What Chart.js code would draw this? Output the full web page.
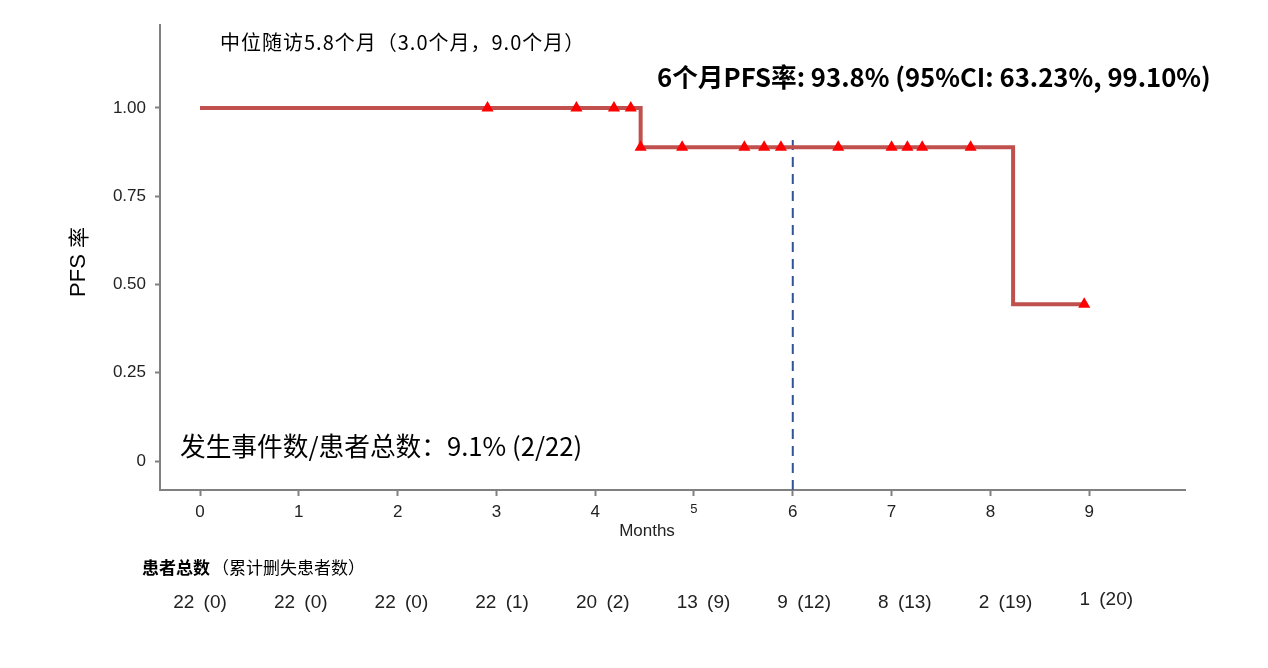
<!DOCTYPE html>
<html>
<head>
<meta charset="utf-8">
<script src="https://cdn.jsdelivr.net/npm/chart.js@4"></script>
<style>
  body { margin: 0; background: #fff; }
  #wrap { width: 1268px; height: 668px; }
</style>
</head>
<body>
<div id="wrap"><canvas id="km"></canvas></div>
<script>
// KM 曲线：事件时间点与对应生存率
const stepTimes = [0, 4.46, 8.23, 8.95];
const stepSurv = [1.0, 0.889, 0.444, 0.444];
// 删失时间点
const censorTimes = [2.91, 3.81, 4.19, 4.36, 4.46, 4.88, 5.51, 5.71, 5.88, 6.46, 7.0, 7.16, 7.31, 7.8, 8.95];
const xTicks = [0, 1, 2, 3, 4, 5, 6, 7, 8, 9];
const yTicks = [0, 0.25, 0.5, 0.75, 1.0];
const yTickLabels = ['0', '0.25', '0.50', '0.75', '1.00'];
const markTime = 6;
const markTop = 0.91;
// 风险表
const riskLabels = ['22 (0)', '22 (0)', '22 (0)', '22 (1)', '20 (2)', '13 (9)', '9 (12)', '8 (13)', '2 (19)', '1 (20)'];

const titleFollow = '中位随访5.8个月（3.0个月，9.0个月）';
const titlePfs = '6个月PFS率: 93.8% (95%CI: 63.23%, 99.10%)';
const titleEvents = '发生事件数/患者总数：9.1% (2/22)';

const yMin = -0.082, yMax = 1.235;

function survAt(t) {
    let s = stepSurv[0];
    for (let i = 0; i < stepTimes.length; i++) {
        if (stepTimes[i] <= t) s = stepSurv[i];
    }
    return s;
}

const kmData = stepTimes.map((t, i) => ({ x: t, y: stepSurv[i] }));
const censorData = censorTimes.map(t => ({ x: t, y: survAt(t) }));

const cjk = '"Noto Sans CJK SC", "Liberation Sans", sans-serif';
const latin = '"Liberation Sans", Arial, sans-serif';

const textPlugin = {
    id: 'kmText',
    afterDraw(chart) {
        const ctx = chart.ctx;
        const x = chart.scales.x;
        ctx.save();
        ctx.fillStyle = '#000';
        ctx.textBaseline = 'middle';

        ctx.textAlign = 'left';
        ctx.font = '20px ' + cjk;
        ctx.letterSpacing = '1px';
        ctx.fillText(titleFollow, 220, 42);
        ctx.letterSpacing = '0px';

        ctx.font = 'bold 25.7px ' + cjk;
        ctx.fillText(titlePfs, 657, 77);

        ctx.font = '25.7px ' + cjk;
        ctx.fillText(titleEvents, 180, 446);

        // x 轴标题
        ctx.textAlign = 'center';
        ctx.fillStyle = '#222';
        ctx.font = '17px ' + latin;
        ctx.fillText('Months', 647, 531);

        // y 轴标题
        ctx.save();
        ctx.translate(78, 262);
        ctx.rotate(-Math.PI / 2);
        ctx.fillStyle = '#000';
        ctx.font = '22px ' + latin;
        const pw = ctx.measureText('PFS ').width;
        ctx.font = '21px ' + cjk;
        const rw = ctx.measureText('率').width;
        ctx.textAlign = 'left';
        ctx.font = '22px ' + latin;
        ctx.fillText('PFS ', -(pw + rw) / 2, 1);
        ctx.font = '21px ' + cjk;
        ctx.fillText('率', -(pw + rw) / 2 + pw, 0);
        ctx.restore();

        // 风险表
        ctx.textAlign = 'left';
        ctx.fillStyle = '#000';
        ctx.font = 'bold 17px ' + cjk;
        ctx.fillText('患者总数', 142, 568);
        const w = ctx.measureText('患者总数').width;
        ctx.font = '17px ' + cjk;
        ctx.fillText('（累计删失患者数）', 142 + w + 2, 568);

        ctx.textAlign = 'center';
        ctx.fillStyle = '#222';
        ctx.font = '19px ' + latin;
        ctx.wordSpacing = '4px';
        riskLabels.forEach((lab, i) => {
            const px = x.getPixelForValue(xTicks[i]) + i * 1.9;
            ctx.fillText(lab, px, i === riskLabels.length - 1 ? 600 : 603);
        });
        ctx.restore();
    }
};

new Chart(document.getElementById('km'), {
    type: 'scatter',
    data: {
        datasets: [
            {
                type: 'line',
                data: [{ x: markTime, y: yMin }, { x: markTime, y: markTop }],
                borderColor: '#2F5597',
                borderWidth: 2,
                borderDash: [10, 7],
                pointRadius: 0,
                order: 3
            },
            {
                type: 'line',
                data: kmData,
                stepped: 'before',
                borderColor: '#C0504D',
                borderWidth: 4,
                pointRadius: 0,
                fill: false,
                order: 2
            },
            {
                data: censorData,
                pointStyle: 'triangle',
                pointRadius: 7,
                backgroundColor: '#FF0000',
                borderColor: '#FF0000',
                borderWidth: 0,
                order: 1
            }
        ]
    },
    options: {
        responsive: true,
        maintainAspectRatio: false,
        animation: false,
        layout: { padding: { left: 0, top: 25, right: 83, bottom: 0 } },
        plugins: {
            legend: { display: false },
            tooltip: { enabled: false }
        },
        scales: {
            x: {
                type: 'linear',
                min: -0.405,
                max: 9.97,
                afterFit(scale) { scale.height = 178; },
                afterBuildTicks(scale) { scale.ticks = xTicks.map(v => ({ value: v })); },
                grid: { drawOnChartArea: false, drawTicks: true, tickLength: 6, tickWidth: 2, color: '#808080' },
                border: { color: '#808080', width: 2 },
                ticks: {
                    padding: 6,
                    color: '#222',
                    font: ctx => ({ family: latin, size: ctx.tick && ctx.tick.value === 5 ? 13 : 17 }),
                    callback: v => String(v)
                }
            },
            y: {
                min: yMin,
                max: yMax,
                afterFit(scale) { scale.width = 160; },
                afterBuildTicks(scale) { scale.ticks = yTicks.map(v => ({ value: v })); },
                grid: { drawOnChartArea: false, drawTicks: true, tickLength: 5, tickWidth: 2, color: '#808080' },
                border: { color: '#808080', width: 2 },
                ticks: {
                    padding: 9,
                    color: '#222',
                    font: { family: latin, size: 17 },
                    callback: v => yTickLabels[yTicks.indexOf(v)]
                }
            }
        }
    },
    plugins: [textPlugin]
});
</script>
</body>
</html>
